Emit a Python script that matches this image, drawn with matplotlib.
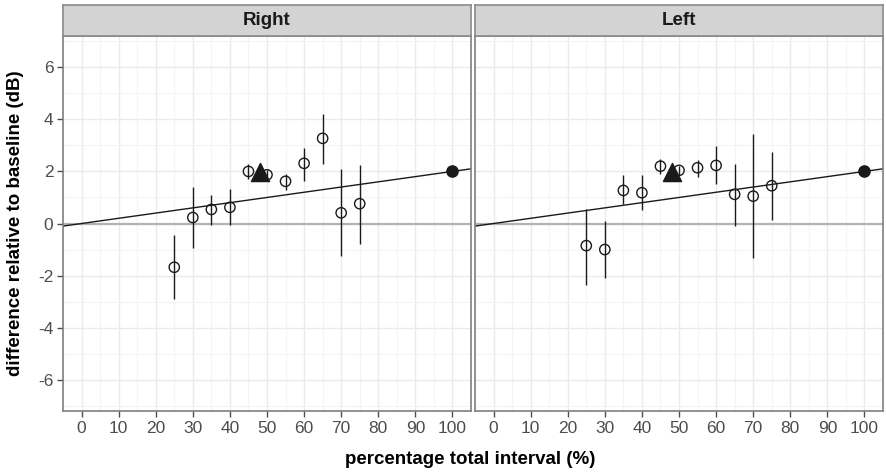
import numpy as np
import matplotlib.pyplot as plt

plt.rcParams['font.family'] = ['Liberation Sans', 'DejaVu Sans']
plt.rcParams['axes.unicode_minus'] = False

# percentage of total interval
pct = [25, 30, 35, 40, 45, 50, 55, 60, 65, 70, 75]

right_y = [-1.68, 0.23, 0.54, 0.62, 2.00, 1.87, 1.62, 2.31, 3.27, 0.41, 0.76]
right_lo = [-2.90, -0.95, -0.05, -0.05, 1.72, 1.70, 1.27, 1.65, 2.30, -1.26, -0.78]
right_hi = [-0.46, 1.40, 1.10, 1.31, 2.30, 2.05, 1.91, 2.91, 4.22, 2.10, 2.23]

left_y = [-0.85, -1.00, 1.27, 1.18, 2.20, 2.04, 2.14, 2.23, 1.12, 1.05, 1.45]
left_lo = [-2.35, -2.09, 0.76, 0.53, 1.91, 1.85, 1.78, 1.53, -0.08, -1.33, 0.12]
left_hi = [0.57, 0.08, 1.85, 1.88, 2.49, 2.20, 2.45, 2.96, 2.30, 3.45, 2.74]

tri_x = [48, 48]
tri_y = [1.97, 1.97]
ref_x = 100
ref_y = 2.0

panels = ["Right", "Left"]
ys = [right_y, left_y]
los = [right_lo, left_lo]
his = [right_hi, left_hi]

W, H = 886, 472
fig = plt.figure(figsize=(W / 100, H / 100), dpi=100)

lefts = [63, 475]
pw = 408
top_plot = 36
bot_plot = 411
strip_top = 5

grid_c = "#ebebeb"
for i in range(2):
    ax = fig.add_axes([lefts[i] / W, 1 - bot_plot / H, pw / W, (bot_plot - top_plot) / H])
    ax.set_xlim(-5, 105)
    ax.set_ylim(-7.2, 7.2)
    ax.set_xticks(np.arange(0, 101, 10))
    ax.set_yticks([-6, -4, -2, 0, 2, 4, 6])
    ax.set_xticks(np.arange(-5, 106, 10), minor=True)
    ax.set_yticks([-7, -5, -3, -1, 1, 3, 5, 7], minor=True)
    ax.grid(True, which="major", color=grid_c, lw=1.0, zorder=0)
    ax.grid(True, which="minor", color="#f4f4f4", lw=0.8, zorder=0)
    ax.tick_params(which="minor", length=0)
    ax.tick_params(which="major", colors="#4d4d4d", labelsize=12.5, length=4, width=1, pad=3)
    if i == 1:
        ax.tick_params(axis="y", left=False, labelleft=False)
    for s in ax.spines.values():
        s.set_color("#7f7f7f")
        s.set_linewidth(1.2)
    ax.set_axisbelow(True)

    ax.axhline(0, color="#b3b3b3", lw=1.6, zorder=1)
    xx = np.array([-5, 105])
    ax.plot(xx, xx * ref_y / ref_x, color="#1a1a1a", lw=1.0, zorder=2)

    yerr = [np.array(ys[i]) - np.array(los[i]), np.array(his[i]) - np.array(ys[i])]
    ax.errorbar(pct, ys[i], yerr=yerr, fmt="none", ecolor="#1a1a1a", elinewidth=1.0, zorder=3)
    ax.scatter(pct, ys[i], s=55, facecolors="none", edgecolors="#1a1a1a", linewidths=1.0, zorder=4)
    ax.scatter([tri_x[i]], [tri_y[i]], marker="^", s=170, color="#1a1a1a", zorder=5)
    ax.scatter([ref_x], [ref_y], marker="o", s=65, color="#1a1a1a", zorder=5)

    sax = fig.add_axes([lefts[i] / W, 1 - top_plot / H, pw / W, (top_plot - strip_top) / H])
    sax.set_facecolor("#d3d3d3")
    sax.set_xticks([])
    sax.set_yticks([])
    for s in sax.spines.values():
        s.set_color("#8a8a8a")
        s.set_linewidth(1.2)
    sax.text(0.5, 0.5, panels[i], ha="center", va="center", fontsize=13.5,
             fontweight="bold", color="#1a1a1a", transform=sax.transAxes)

fig.text(470 / W, 1 - 459 / H, "percentage total interval (%)", ha="center", va="center",
         fontsize=13.5, fontweight="bold")
fig.text(16 / W, 1 - 223 / H, "difference relative to baseline (dB)", ha="center", va="center",
         rotation=90, fontsize=13.5, fontweight="bold")

fig.savefig("out.png", dpi=100)
